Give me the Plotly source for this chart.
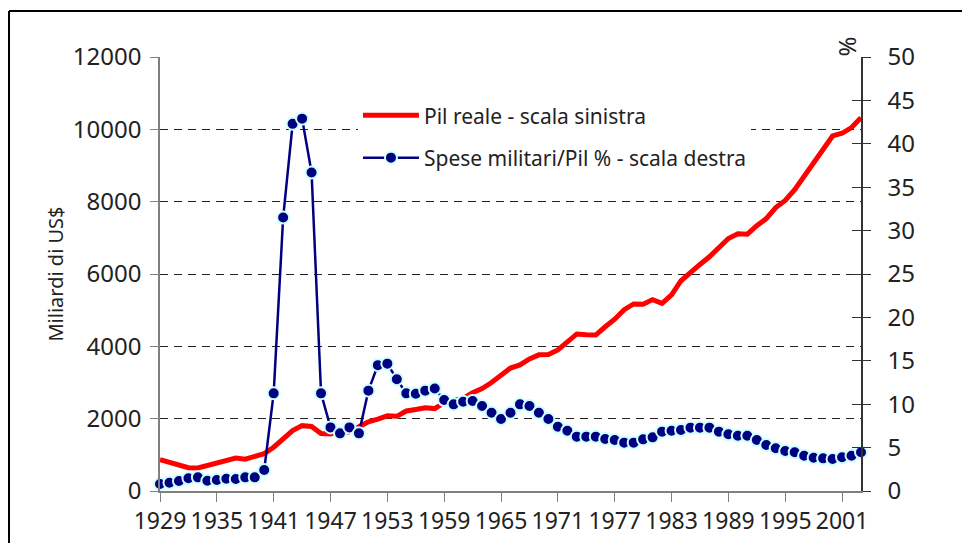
import plotly.graph_objects as go

years = list(range(1929, 2004))

pil_reale = [865, 791, 740, 644, 636, 704, 767, 867, 911, 880,
             951, 1034, 1211, 1435, 1671, 1807, 1786, 1589, 1575, 1643,
             1635, 1777, 1915, 1988, 2080, 2065, 2213, 2256, 2301, 2279,
             2441, 2502, 2560, 2715, 2834, 2999, 3191, 3399, 3485, 3653,
             3765, 3772, 3899, 4105, 4342, 4320, 4311, 4541, 4751, 5015,
             5173, 5162, 5292, 5189, 5424, 5814, 6054, 6264, 6475, 6743,
             6981, 7113, 7101, 7337, 7533, 7836, 8032, 8329, 8704, 9067,
             9470, 9817, 9891, 10049, 10321]

spese_militari = [0.8, 0.96, 1.15, 1.46, 1.57, 1.19, 1.27, 1.42, 1.38, 1.57,
                  1.57, 2.42, 11.25, 31.5, 42.3, 42.9, 36.7, 11.25, 7.33, 6.64,
                  7.33, 6.64, 11.56, 14.5, 14.67, 12.87, 11.25, 11.2, 11.56, 11.8,
                  10.48, 9.98, 10.29, 10.37, 9.79, 9.02, 8.29, 9.02, 9.98, 9.79,
                  9.02, 8.29, 7.41, 6.95, 6.26, 6.26, 6.26, 5.99, 5.88, 5.57,
                  5.57, 5.95, 6.18, 6.84, 6.95, 7.03, 7.3, 7.3, 7.3, 6.84,
                  6.53, 6.37, 6.37, 5.88, 5.3, 4.92, 4.6, 4.46, 4.07, 3.84,
                  3.76, 3.69, 3.88, 4.07, 4.46]

x_tickvals = list(range(1929, 2002, 6))
left_ticks = list(range(0, 12001, 2000))
right_ticks = list(range(0, 51, 5))

FONT = "Noto Sans"

fig = go.Figure()
fig.add_trace(go.Scatter(
    x=years, y=pil_reale, mode="lines", name="Pil reale - scala sinistra",
    line=dict(color="#ff0000", width=5), yaxis="y", legendgroup="a"))
fig.add_trace(go.Scatter(
    x=years, y=spese_militari, mode="lines+markers",
    name="Spese militari/Pil % - scala destra",
    line=dict(color="#000080", width=2.5),
    marker=dict(color="#000080", size=12, line=dict(color="#ccffff", width=2)),
    yaxis="y2", cliponaxis=False, legendgroup="b"))

fig.update_layout(
    width=962, height=535,
    margin=dict(l=152, r=109, t=49, b=52, pad=0),
    paper_bgcolor="white", plot_bgcolor="white",
    font=dict(family=FONT, color="#222222"),
    showlegend=True,
    legend=dict(x=0.2824, y=0.912, xanchor="left", yanchor="top",
                bgcolor="white", borderwidth=0, font=dict(size=21, family=FONT),
                tracegroupgap=12, itemwidth=56),
    xaxis=dict(range=[1929, 2003], tickvals=x_tickvals, tickangle=0,
               ticks="outside", ticklen=9, tickcolor="#808080",
               showline=True, linecolor="#808080", linewidth=1.5,
               showgrid=False, zeroline=False, automargin=False,
               tickfont=dict(size=23, family=FONT)),
    yaxis=dict(range=[0, 12000], tickvals=left_ticks, tickformat="d",
               ticks="outside",
               ticklen=8, tickcolor="#808080", showline=True,
               linecolor="#808080", linewidth=1.5,
               showgrid=True, gridcolor="#222222", gridwidth=1,
               griddash="8px,6px", zeroline=False, automargin=False,
               tickfont=dict(size=24, family=FONT), ticklabelstandoff=4,
               title=dict(text="Miliardi di US$", font=dict(size=20, family=FONT),
                          standoff=4)),
    yaxis2=dict(range=[0, 50], tickvals=right_ticks, overlaying="y",
                side="right", ticks="outside", ticklen=8, tickcolor="#333333",
                showline=True, linecolor="#333333", linewidth=1.5,
                showgrid=False, zeroline=False, automargin=False,
                tickfont=dict(size=24, family=FONT), ticklabelstandoff=12),
    yaxis3=dict(range=[0, 50], tickvals=right_ticks, overlaying="y",
                side="right", ticks="inside", ticklen=9, tickcolor="#333333",
                showticklabels=False, showline=False, showgrid=False,
                zeroline=False, automargin=False),
)

# invisible trace to activate yaxis3
fig.add_trace(go.Scatter(x=[years[0]], y=[0], yaxis="y3", mode="markers",
                         marker=dict(opacity=0), showlegend=False,
                         hoverinfo="skip"))

fig.add_annotation(text="%", xref="paper", yref="paper",
                   x=(864 - 160) / 701, y=(491 - 35) / 434,
                   showarrow=False, textangle=-90,
                   font=dict(size=24, family=FONT, color="#222222"))

# chart frame (outer border)
fx = (9 - 160) / 701
fy = (491 - 11) / 434
fig.add_shape(type="line", xref="paper", yref="paper",
              x0=fx, y0=fy, x1=1.2, y1=fy, line=dict(color="black", width=2))
fig.add_shape(type="line", xref="paper", yref="paper",
              x0=fx, y0=fy, x1=fx, y1=-0.2, line=dict(color="black", width=2))

fig.write_html("out.html")
